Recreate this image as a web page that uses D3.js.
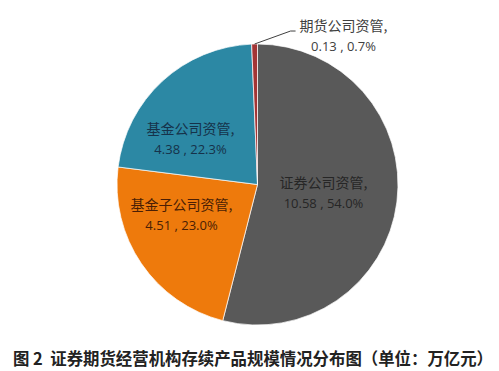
<!DOCTYPE html>
<html><head><meta charset="utf-8">
<script src="https://cdn.jsdelivr.net/npm/d3@7"></script>
<style>html,body{margin:0;padding:0;background:#fff;}svg{display:block;}</style>
</head><body>
<script>
const categories = ["证券公司资管", "基金子公司资管", "基金公司资管", "期货公司资管"];
const values = [10.58, 4.51, 4.38, 0.13];
const percents = ["54.0%", "23.0%", "22.3%", "0.7%"];
const colors = ["#595959", "#EE7A0C", "#2C88A4", "#A33535"];
const labelColors = ["#262626", "#4a1e05", "#16324a", "#404040"];
const title = "图 2\u00a0\u00a0证券期货经营机构存续产品规模情况分布图（单位：万亿元）";

const W = 499, H = 371;
const cx = 257.5, cy = 184.5, R = 140.5;
const svg = d3.select("body").append("svg").attr("width", W).attr("height", H);

const data = categories.map((c, i) => ({cat: c, value: values[i], pct: percents[i], color: colors[i], lc: labelColors[i]}));
const pie = d3.pie().value(d => d.value).sort(null);
const arcs = pie(data);
const arc = d3.arc().innerRadius(0).outerRadius(R);

const g = svg.append("g").attr("transform", `translate(${cx},${cy})`);
g.selectAll("path").data(arcs).enter().append("path")
  .attr("d", arc).attr("fill", d => d.data.color)
  .attr("stroke", "#fff").attr("stroke-width", 0.7);

const labelPos = [[66, -1], [-76, 21], [-67, -55], [86, -158]];
const font = "'Noto Sans CJK SC', 'Noto Sans', sans-serif";
arcs.forEach((a, i) => {
  const [lx, ly] = labelPos[i];
  const t = g.append("text").attr("text-anchor", "middle")
    .attr("font-family", font).attr("font-size", 14).attr("fill", a.data.lc);
  t.append("tspan").attr("x", lx).attr("y", ly).attr("dy", "0.35em").text(a.data.cat + ",");
  t.append("tspan").attr("x", lx).attr("y", ly + 19.5).attr("dy", "0.35em")
    .attr("font-family", "'Open Sans', 'Liberation Sans', sans-serif").attr("font-size", 13)
    .text(d3.format(".2f")(a.data.value) + " , " + a.data.pct);
});

const small = arcs[3];
const mid = (small.startAngle + small.endAngle) / 2;
const p0 = [Math.sin(mid) * R, -Math.cos(mid) * R];
g.append("polyline")
  .attr("points", [p0, [p0[0] + 36, p0[1] - 13], [p0[0] + 41, p0[1] - 13]].map(p => p.join(",")).join(" "))
  .attr("fill", "none").attr("stroke", "#404040").attr("stroke-width", 1);

svg.append("text").attr("x", 13).attr("y", 359).attr("dy", "0.35em")
  .attr("font-family", font).attr("font-weight", "bold").attr("font-size", 16.5)
  .attr("fill", "#222").attr("textLength", 480).attr("lengthAdjust", "spacingAndGlyphs")
  .text(title);
</script>
</body></html>
